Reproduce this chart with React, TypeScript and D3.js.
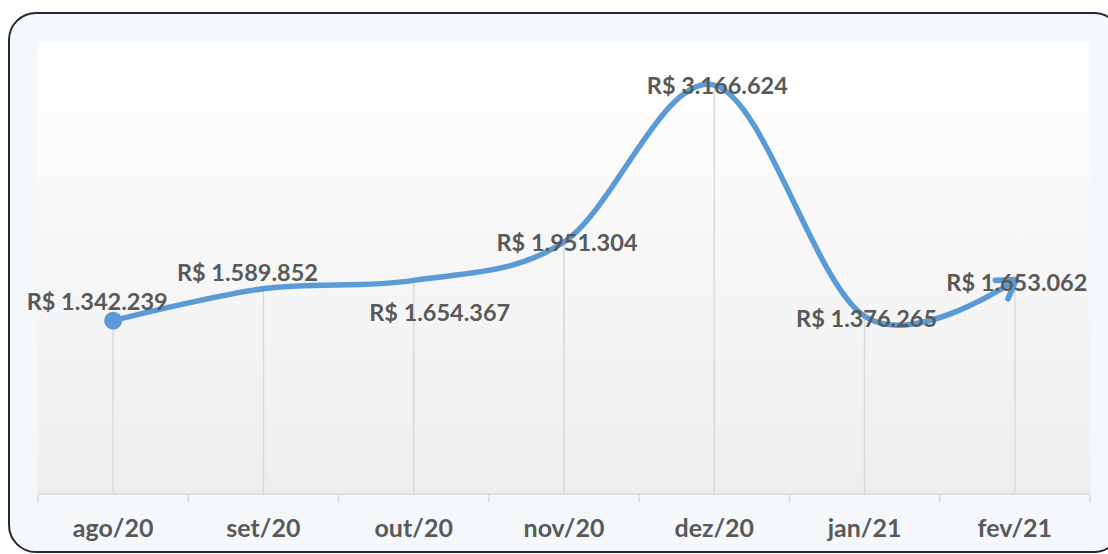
import React from 'react';
import * as d3 from 'd3';

const months = ['ago/20', 'set/20', 'out/20', 'nov/20', 'dez/20', 'jan/21', 'fev/21'];
const revenue = [1342239, 1589852, 1654367, 1951304, 3166624, 1376265, 1653062];
// label placement relative to each point (dx, dy)
const labelDx = [-16, -16, 26, 3, 3, 2, 2];
const labelDy = [-11, -8, 41, 9, 9, 11, 10];

const W = 1108;
const H = 554;
const plot = { left: 38, top: 42, right: 1090, bottom: 494 };
const font = 'Lato, "Open Sans", sans-serif';
const grey = '#595959';
const blue = '#5b9bd5';

const brl = (v: number) => 'R$ ' + d3.format(',')(v).replace(/,/g, '.');

const App = () => {
	const x = d3.scaleBand().domain(months).range([plot.left, plot.right]);
	const y = d3.scaleLinear().domain([0, 3500000]).range([plot.bottom, plot.top]);
	const cx = (m: string) => (x(m) as number) + x.bandwidth() / 2;

	const line = d3
		.line<number>()
		.x((d, i) => cx(months[i]))
		.y((d) => y(d))
		.curve(d3.curveCardinal.tension(0));

	const boundaries = months.map((m) => x(m) as number).concat([plot.right]);
	const pts = revenue.map((v, i) => [cx(months[i]), y(v)]);

	return (
		<svg width={W} height={H} style={{ position: 'absolute', left: 0, top: 0 }}>
			<defs>
				<linearGradient id="plotBg" x1="0" y1="0" x2="0" y2="1">
					<stop offset="0" stopColor="#ffffff" />
					<stop offset="1" stopColor="#eeeeee" />
				</linearGradient>
				<marker id="arrow" viewBox="0 0 20 20" refX="14" refY="10" markerWidth="32" markerHeight="32" markerUnits="userSpaceOnUse" orient="auto">
					<path d="M4,3 L15,10 L4,17" fill="none" stroke={blue} strokeWidth="3.6" strokeLinecap="round" strokeLinejoin="round" />
				</marker>
			</defs>
			<rect x={9} y={13} width={1112} height={539} rx={27} ry={27} fill="#f5f8fb" stroke="#222a35" strokeWidth={2} />
			<rect x={plot.left} y={plot.top} width={plot.right - plot.left} height={plot.bottom - plot.top} fill="url(#plotBg)" />

			{pts.map(([px, py], i) => (
				<line key={'d' + i} x1={px} x2={px} y1={py} y2={plot.bottom} stroke="#d9d9d9" strokeWidth={1.5} />
			))}

			<line x1={plot.left} x2={plot.right} y1={plot.bottom} y2={plot.bottom} stroke="#d9d9d9" strokeWidth={1.5} />
			{boundaries.map((b, i) => (
				<line key={'t' + i} x1={b} x2={b} y1={plot.bottom} y2={plot.bottom + 8} stroke="#d9d9d9" strokeWidth={1.5} />
			))}

			<path d={line(revenue) || ''} fill="none" stroke={blue} strokeWidth={5.5} strokeLinecap="round" markerEnd="url(#arrow)" />
			<circle cx={pts[0][0]} cy={pts[0][1]} r={9} fill={blue} />

			{revenue.map((v, i) => (
				<text
					key={'l' + i}
					x={pts[i][0] + labelDx[i]}
					y={pts[i][1] + labelDy[i]}
					textAnchor="middle"
					fontFamily={font}
					fontWeight="bold"
					fontSize={23.5}
					fill={grey}
				>
					{brl(v)}
				</text>
			))}

			{months.map((m) => (
				<text key={m} x={cx(m)} y={537} textAnchor="middle" fontFamily={font} fontWeight="bold" fontSize={25} fill={grey}>
					{m}
				</text>
			))}
		</svg>
	);
};

export default App;
